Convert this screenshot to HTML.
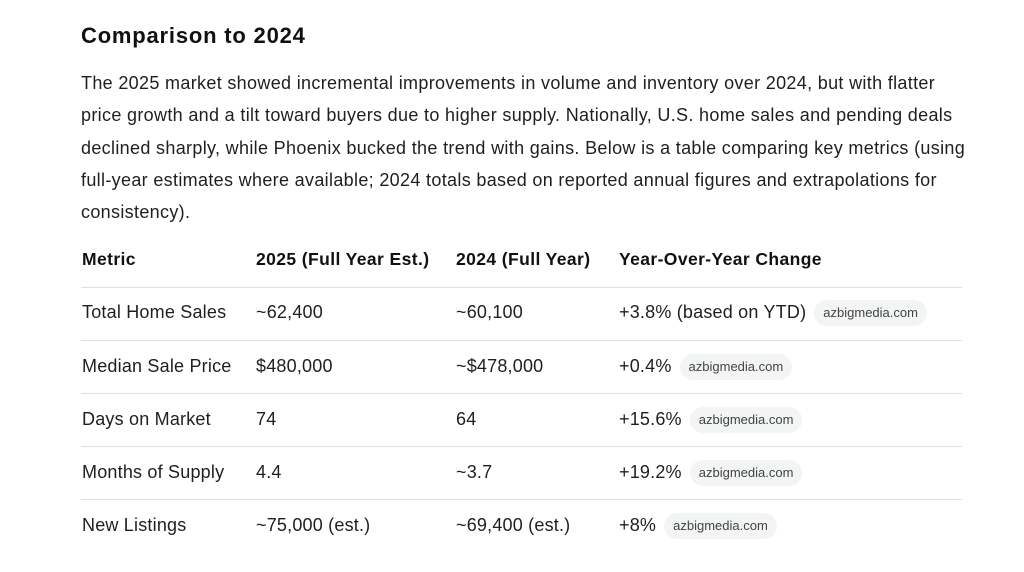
<!DOCTYPE html>
<html><head><meta charset="utf-8"><style>
body{margin:0;width:1024px;height:572px;background:#fff;font-family:"Liberation Sans",sans-serif;color:#1a1a1a;position:relative;overflow:hidden}
.a{position:absolute;white-space:nowrap}
h1{position:absolute;left:81px;top:23px;margin:0;font-size:22px;letter-spacing:0.8px;font-weight:bold;color:#111}
.p{position:absolute;left:81px;top:67px;width:960px;font-size:18px;letter-spacing:0.33px;line-height:32.3px;color:#1f1f1f}
.p div{white-space:nowrap}
.h{font-weight:bold;font-size:17.5px;letter-spacing:0.4px;color:#111}
.c{font-size:18px;letter-spacing:0.2px;color:#1f1f1f}
.line{position:absolute;left:81px;width:881px;height:1px;background:#d9e1e8}
.pill{display:inline-block;background:#f3f4f4;color:#444;font-size:13px;letter-spacing:0;height:26px;line-height:26px;padding:0 9px;border-radius:13px;margin-left:8px;vertical-align:middle}
</style></head><body>
<h1>Comparison to 2024</h1>
<div class="p">
<div>The 2025 market showed incremental improvements in volume and inventory over 2024, but with flatter</div>
<div>price growth and a tilt toward buyers due to higher supply. Nationally, U.S. home sales and pending deals</div>
<div>declined sharply, while Phoenix bucked the trend with gains. Below is a table comparing key metrics (using</div>
<div>full-year estimates where available; 2024 totals based on reported annual figures and extrapolations for</div>
<div>consistency).</div>
</div>
<div class="a h" style="left:82px;top:249px">Metric</div>
<div class="a h" style="left:256px;top:249px">2025 (Full Year Est.)</div>
<div class="a h" style="left:456px;top:249px">2024 (Full Year)</div>
<div class="a h" style="left:619px;top:249px">Year-Over-Year Change</div>
<div class="line" style="top:287px"></div>
<div class="line" style="top:340px"></div>
<div class="line" style="top:393px"></div>
<div class="line" style="top:446px"></div>
<div class="line" style="top:499px"></div>

<div class="a c" style="left:82px;top:302px">Total Home Sales</div>
<div class="a c" style="left:256px;top:302px">~62,400</div>
<div class="a c" style="left:456px;top:302px">~60,100</div>
<div class="a c" style="left:619px;top:299px;line-height:26px">+3.8% (based on YTD)<span class="pill">azbigmedia.com</span></div>

<div class="a c" style="left:82px;top:356px">Median Sale Price</div>
<div class="a c" style="left:256px;top:356px">$480,000</div>
<div class="a c" style="left:456px;top:356px">~$478,000</div>
<div class="a c" style="left:619px;top:353px;line-height:26px">+0.4%<span class="pill">azbigmedia.com</span></div>

<div class="a c" style="left:82px;top:409px">Days on Market</div>
<div class="a c" style="left:256px;top:409px">74</div>
<div class="a c" style="left:456px;top:409px">64</div>
<div class="a c" style="left:619px;top:406px;line-height:26px">+15.6%<span class="pill">azbigmedia.com</span></div>

<div class="a c" style="left:82px;top:462px">Months of Supply</div>
<div class="a c" style="left:256px;top:462px">4.4</div>
<div class="a c" style="left:456px;top:462px">~3.7</div>
<div class="a c" style="left:619px;top:459px;line-height:26px">+19.2%<span class="pill">azbigmedia.com</span></div>

<div class="a c" style="left:82px;top:515px">New Listings</div>
<div class="a c" style="left:256px;top:515px">~75,000 (est.)</div>
<div class="a c" style="left:456px;top:515px">~69,400 (est.)</div>
<div class="a c" style="left:619px;top:512px;line-height:26px">+8%<span class="pill">azbigmedia.com</span></div>
</body></html>
